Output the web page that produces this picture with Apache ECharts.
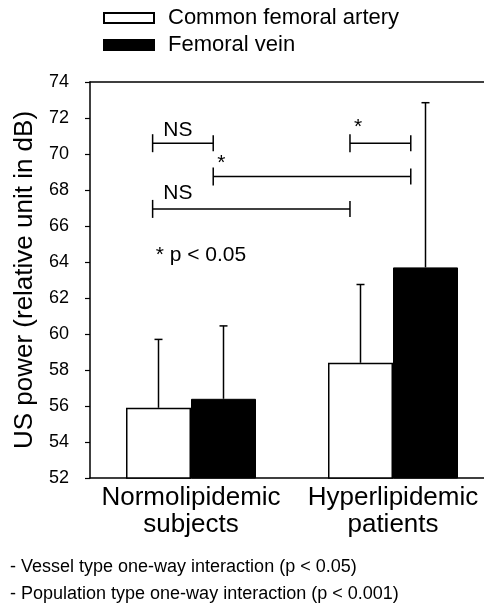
<!DOCTYPE html>
<html>
<head>
<meta charset="utf-8">
<script src="https://cdn.jsdelivr.net/npm/echarts@6/dist/echarts.min.js"></script>
<style>
  html, body { margin: 0; padding: 0; background: #fff; }
  #chart { width: 484px; height: 616px; }
</style>
</head>
<body>
<div id="chart"></div>
<script>
// data
const groups = ['Normolipidemic\nsubjects', 'Hyperlipidemic\npatients'];
const seriesNames = ['Common femoral artery', 'Femoral vein'];
const arteryMean = [55.9, 58.4];
const arterySD = [3.8, 4.35];
const veinMean = [56.4, 63.7];
const veinSD = [4.05, 9.15];

// comparison brackets, x in group units (0 = first group, 1 = second group)
const bracketX1 = [-0.19, -0.19, 0.11, 0.787];
const bracketX2 = [0.11, 0.787, 1.088, 1.088];
const bracketY = [70.6, 66.95, 68.75, 70.6];
const bracketText = ['NS', 'NS', '*', '*'];
const bracketTextX = [-0.065, -0.065, 0.15, 0.827];
const bracketTextY = [71.33, 67.83, 69.47, 71.47];

const noteText = ['* p < 0.05'];
const noteX = [-0.175];
const noteY = [64.39];

const footLines = [
    '- Vessel type one-way interaction (p < 0.05)',
    '- Population type one-way interaction (p < 0.001)'
];

const FONT = '"Liberation Sans", Arial, sans-serif';
const BAR_W = 65;

function errorSeries(means, sds, offset) {
    return {
        type: 'custom',
        xAxisIndex: 0,
        yAxisIndex: 0,
        silent: true,
        z: 5,
        data: means.map((m, i) => [i, m, sds[i]]),
        renderItem: function (params, api) {
            const i = api.value(0);
            const m = api.value(1);
            const s = api.value(2);
            const p0 = api.coord([i, m]);
            const p1 = api.coord([i, m + s]);
            const x = p0[0] + offset;
            const st = { stroke: '#000', lineWidth: 1.5 };
            return {
                type: 'group',
                children: [
                    { type: 'line', shape: { x1: x, y1: p0[1], x2: x, y2: p1[1] }, style: st },
                    { type: 'line', shape: { x1: x - 4, y1: p1[1], x2: x + 4, y2: p1[1] }, style: st }
                ]
            };
        }
    };
}

const chart = echarts.init(document.getElementById('chart'));

chart.setOption({
    backgroundColor: '#fff',
    animation: false,
    textStyle: { fontFamily: FONT, color: '#000' },
    legend: {
        orient: 'vertical',
        left: 98,
        top: 0,
        itemWidth: 50,
        itemHeight: 10,
        itemGap: 1,
        icon: 'rect',
        selectedMode: false,
        data: seriesNames,
        textStyle: { fontFamily: FONT, fontSize: 22, color: '#000', lineHeight: 26, padding: [0, 0, 0, 9] }
    },
    grid: { left: 90, top: 82, width: 404, height: 396, outerBoundsMode: 'none', containLabel: false },
    xAxis: [{
        type: 'category',
        data: groups,
        axisLine: { lineStyle: { color: '#000', width: 1.5 } },
        axisTick: { show: false },
        axisLabel: { interval: 0, fontFamily: FONT, fontSize: 26, color: '#000', lineHeight: 27, margin: 6 }
    }, {
        type: 'value',
        position: 'top',
        min: -0.5,
        max: 1.5,
        axisLine: { show: true, onZero: false, lineStyle: { color: '#000', width: 1.5 } },
        axisTick: { show: false },
        axisLabel: { show: false },
        splitLine: { show: false }
    }],
    yAxis: {
        type: 'value',
        min: 52,
        max: 74,
        interval: 2,
        name: 'US power (relative unit in dB)',
        nameLocation: 'middle',
        nameRotate: 90,
        nameGap: 52,
        nameTextStyle: { fontFamily: FONT, fontSize: 26, color: '#000' },
        axisLine: { show: true, onZero: false, lineStyle: { color: '#000', width: 1.5 } },
        axisTick: { show: true, length: 5, lineStyle: { color: '#000', width: 1.2 } },
        axisLabel: { fontFamily: FONT, fontSize: 18, color: '#000', margin: 21 },
        splitLine: { show: false }
    },
    series: [{
        name: seriesNames[0],
        type: 'bar',
        barWidth: BAR_W,
        barGap: '0%',
        data: arteryMean,
        itemStyle: { color: '#fff', borderColor: '#000', borderWidth: 1.5 }
    }, {
        name: seriesNames[1],
        type: 'bar',
        barWidth: BAR_W,
        barGap: '0%',
        data: veinMean,
        itemStyle: { color: '#000', borderColor: '#000', borderWidth: 1 }
    },
    errorSeries(arteryMean, arterySD, -BAR_W / 2),
    errorSeries(veinMean, veinSD, BAR_W / 2),
    {
        type: 'custom',
        xAxisIndex: 1,
        yAxisIndex: 0,
        silent: true,
        data: bracketY.map((y, i) => [bracketX1[i], bracketX2[i], y]),
        renderItem: function (params, api) {
            const i = params.dataIndex;
            const a = api.coord([api.value(0), api.value(2)]);
            const b = api.coord([api.value(1), api.value(2)]);
            const t = api.coord([bracketTextX[i], bracketTextY[i]]);
            const st = { stroke: '#000', lineWidth: 1.5 };
            return {
                type: 'group',
                children: [
                    { type: 'line', shape: { x1: a[0], y1: a[1], x2: b[0], y2: b[1] }, style: st },
                    { type: 'line', shape: { x1: a[0], y1: a[1] - 9, x2: a[0], y2: a[1] + 9 }, style: st },
                    { type: 'line', shape: { x1: b[0], y1: b[1] - 8, x2: b[0], y2: b[1] + 8 }, style: st },
                    {
                        type: 'text',
                        x: t[0], y: t[1],
                        style: {
                            text: bracketText[i], fill: '#000',
                            font: '21px ' + FONT, align: 'center', verticalAlign: 'middle'
                        }
                    }
                ]
            };
        }
    }, {
        type: 'custom',
        xAxisIndex: 1,
        yAxisIndex: 0,
        silent: true,
        data: noteX.map((x, i) => [x, noteY[i]]),
        renderItem: function (params, api) {
            const p = api.coord([api.value(0), api.value(1)]);
            return {
                type: 'text',
                x: p[0], y: p[1],
                style: {
                    text: noteText[params.dataIndex], fill: '#000',
                    font: '21px ' + FONT, align: 'left', verticalAlign: 'middle'
                }
            };
        }
    }],
    graphic: footLines.map((line, i) => ({
        type: 'text',
        left: 10,
        top: 558 + i * 27,
        style: { text: line, fill: '#000', font: '18px ' + FONT }
    }))
});
</script>
</body>
</html>
